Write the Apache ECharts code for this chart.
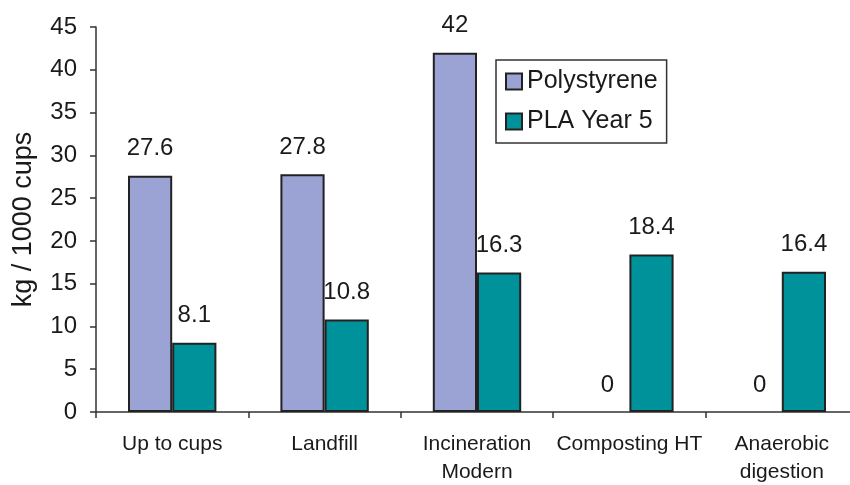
<!DOCTYPE html>
<html>
<head>
<meta charset="utf-8">
<script src="https://cdn.jsdelivr.net/npm/echarts@6/dist/echarts.min.js"></script>
<style>
  html, body { margin: 0; padding: 0; background: #ffffff; }
  #chart { width: 850px; height: 485px; }
</style>
</head>
<body>
<div id="chart"></div>
<script>
// Emissions per 1000 cups by end-of-life scenario
const categories = ['Up to cups', 'Landfill', 'Incineration\nModern', 'Composting HT', 'Anaerobic\ndigestion'];
const polystyrene = [27.6, 27.8, 42, 0, 0];
const plaYear5 = [8.1, 10.8, 16.3, 18.4, 16.4];
const yTicks = { min: 0, max: 45, interval: 5 };

const font = 'Liberation Sans, Arial, Helvetica, sans-serif';
const chart = echarts.init(document.getElementById('chart'), null, { renderer: 'canvas' });

const labelStyle = {
  show: true,
  position: 'top',
  distance: 15,
  fontFamily: font,
  fontSize: 24,
  color: '#1a1a1a'
};

// zero-height bars get no outline so no stray stroke sits on the axis
const withOutline = (values) => values.map((v) => ({
  value: v,
  itemStyle: { borderWidth: v === 0 ? 0 : 2 }
}));

chart.setOption({
  animation: false,
  backgroundColor: '#ffffff',
  textStyle: { fontFamily: font },
  grid: {
    left: 96, top: 27, width: 762, bottom: 73,
    containLabel: false,
    outerBoundsMode: 'none'
  },
  legend: {
    orient: 'vertical',
    left: 496,
    top: 60,
    padding: [9, 9, 9, 9],
    itemWidth: 16,
    itemHeight: 16,
    itemGap: 15,
    borderColor: '#333333',
    borderWidth: 1.5,
    icon: 'rect',
    itemStyle: { borderWidth: 2, borderColor: '#222222' },
    textStyle: { fontFamily: font, fontSize: 25, color: '#1a1a1a' },
    data: ['Polystyrene', 'PLA Year 5']
  },
  xAxis: {
    type: 'category',
    data: categories,
    axisLine: { lineStyle: { color: '#333333', width: 1.5 } },
    axisTick: { show: true, length: 6, lineStyle: { color: '#333333', width: 1.5 } },
    axisLabel: {
      fontFamily: font,
      fontSize: 21,
      color: '#1a1a1a',
      margin: 18,
      lineHeight: 28,
      interval: 0
    },
    splitLine: { show: false }
  },
  yAxis: {
    type: 'value',
    min: yTicks.min,
    max: yTicks.max,
    interval: yTicks.interval,
    name: 'kg / 1000 cups',
    nameLocation: 'middle',
    nameGap: 59,
    nameRotate: 90,
    nameTextStyle: { fontFamily: font, fontSize: 27, color: '#1a1a1a' },
    axisLine: { show: true, lineStyle: { color: '#333333', width: 1.5 } },
    axisTick: { show: true, length: 6, lineStyle: { color: '#333333', width: 1.5 } },
    axisLabel: { fontFamily: font, fontSize: 24, color: '#1a1a1a', margin: 19 },
    splitLine: { show: false }
  },
  series: [
    {
      name: 'Polystyrene',
      type: 'bar',
      data: withOutline(polystyrene),
      barGap: '0%',
      barCategoryGap: '42%',
      itemStyle: { color: '#9ba3d4', borderColor: '#222222', borderWidth: 2 },
      label: labelStyle
    },
    {
      name: 'PLA Year 5',
      type: 'bar',
      data: withOutline(plaYear5),
      itemStyle: { color: '#00929a', borderColor: '#222222', borderWidth: 2 },
      label: labelStyle
    }
  ]
});
</script>
</body>
</html>
